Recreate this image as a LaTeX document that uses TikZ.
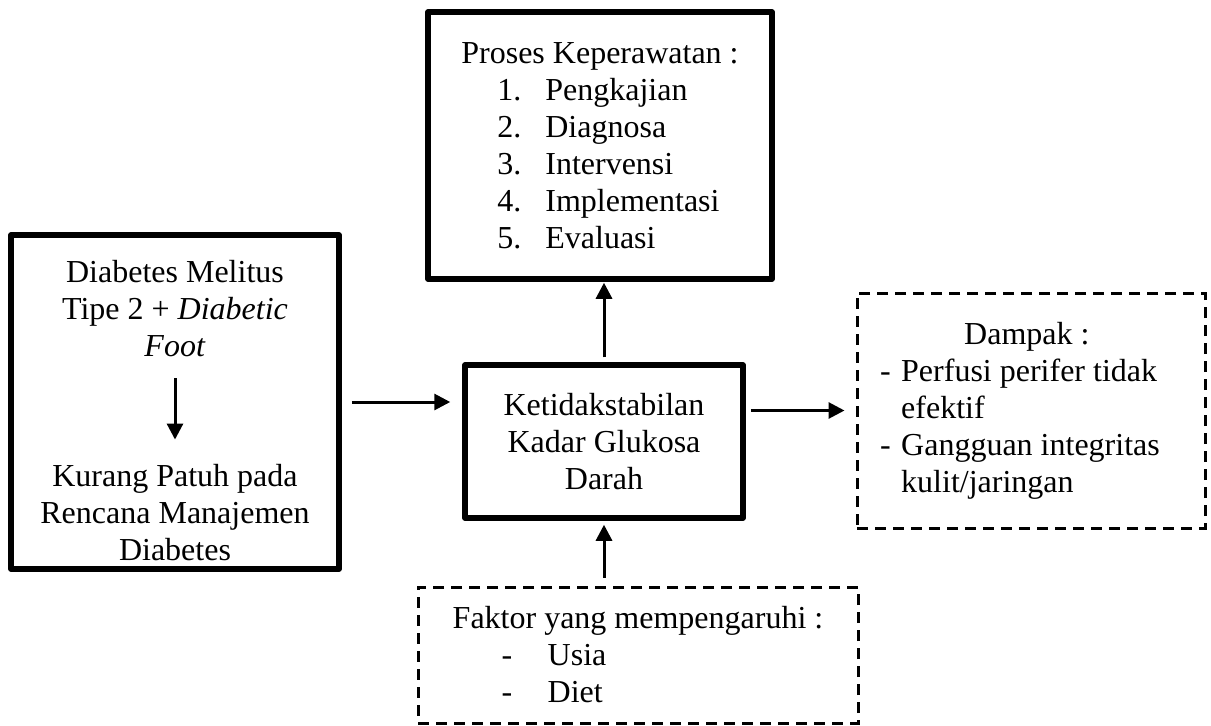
\documentclass[tikz,border=0pt]{standalone}
\usepackage{fontspec}
\setmainfont{Liberation Serif}
\usetikzlibrary{arrows.meta}

\tikzset{
  box/.style={draw, line width=5.5pt, line join=round, inner sep=0pt, align=center},
  dashbox/.style={draw, line width=3pt, dash pattern=on 11pt off 7pt, inner sep=0pt},
  txt/.style={inner sep=0pt, align=center},
  arr/.style={-{Triangle[length=16pt,width=16pt]}, line width=3pt}
}

\begin{document}
\begin{tikzpicture}[x=1pt, y=-1pt, font=\fontsize{32}{37}\selectfont]
\useasboundingbox (0,0) rectangle (1211,726);

% boxes
\node [box, minimum width=344pt, minimum height=267pt, align=left] (proses) at (600,145.5)
  {Proses Keperawatan :\\
   \hspace*{36pt}\makebox[48pt][l]{1.}Pengkajian\\
   \hspace*{36pt}\makebox[48pt][l]{2.}Diagnosa\\
   \hspace*{36pt}\makebox[48pt][l]{3.}Intervensi\\
   \hspace*{36pt}\makebox[48pt][l]{4.}Implementasi\\
   \hspace*{36pt}\makebox[48pt][l]{5.}Evaluasi};
\node [box, minimum width=328pt, minimum height=334pt] (dm) at (175,402) {};
\node [txt] (dmtxt) at (175,309) {Diabetes Melitus\\Tipe 2 + \textit{Diabetic}\\\textit{Foot}};
\node [txt] (kurang) at (175,513) {Kurang Patuh pada\\Rencana Manajemen\\Diabetes};
\node [box, minimum width=278pt, minimum height=153pt] (kgd) at (604,441.5)
  {Ketidakstabilan\\Kadar Glukosa\\Darah};
\node [dashbox, minimum width=348pt, minimum height=235pt] (dampak) at (1031,410.5) {};
\node [txt, align=left] (dampaktxt) at (1020,410.5)
  {\hspace*{84pt}Dampak :\\
   \makebox[21pt][l]{-}Perfusi perifer tidak\\
   \hspace*{21pt}efektif\\
   \makebox[21pt][l]{-}Gangguan integritas\\
   \hspace*{21pt}kulit/jaringan};
\node [dashbox, minimum width=440pt, minimum height=136pt, align=left] (faktor) at (638,655)
  {Faktor yang mempengaruhi :\\
   \hspace*{49pt}\makebox[46pt][l]{-}Usia\\
   \hspace*{49pt}\makebox[46pt][l]{-}Diet};

% arrows
\path [arr, shorten <=21pt, shorten >=25pt] (dmtxt.south) edge (kurang.north);
\path [arr, shorten <=10pt, shorten >=12pt] (dm.east) edge (dm.east -| kgd.west);
\path [arr, shorten <=5pt, shorten >=11pt] (kgd.east |- dampak.west) edge (dampak.west);
\path [arr, shorten <=5pt, shorten >=1pt] (kgd.north) edge (kgd.north |- proses.south);
\path [arr, shorten <=8pt, shorten >=4pt] (kgd.south |- faktor.north) edge (kgd.south);
\end{tikzpicture}
\end{document}
